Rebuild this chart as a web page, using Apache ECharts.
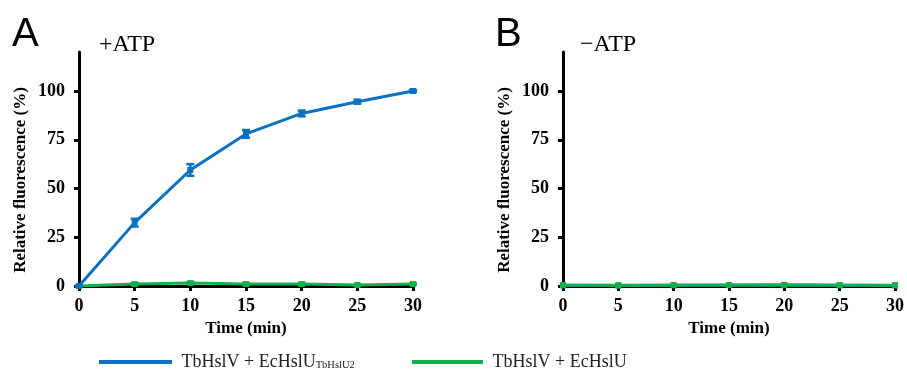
<!DOCTYPE html>
<html>
<head>
<meta charset="utf-8">
<script src="https://cdn.jsdelivr.net/npm/echarts@6/dist/echarts.min.js"></script>
<style>
html,body{margin:0;padding:0;background:#fff;}
#main{width:907px;height:371px;}
</style>
</head>
<body>
<div id="main"></div>
<script>
// ---- data ----
var times = [0, 5, 10, 15, 20, 25, 30];
var yTicks = [0, 25, 50, 75, 100];
var blueA = [0, 32.5, 59.5, 78, 88.5, 94.5, 100];
var blueAErr = [0, 2, 3, 2, 1.5, 1, 0.5];
var greenA = [0, 1, 1.5, 1, 1, 0.5, 1];
var greenAErr = [0, 0.5, 0.5, 0.5, 0.5, 0.3, 0.3];
var blueB = [0.3, 0.2, 0.3, 0.4, 0.4, 0.3, 0.3];
var greenB = [0.5, 0.4, 0.5, 0.5, 0.6, 0.5, 0.4];
var nameBlue = 'TbHslV + EcHslU (TbHslU2)';
var nameGreen = 'TbHslV + EcHslU';

var BLUE = '#0a70c4', GREEN = '#14b04c';
var SERIF = '"Liberation Serif", "Times New Roman", serif';

function pairs(vals) { return times.map(function (t, i) { return [t, vals[i]]; }); }
function errData(vals, errs) { return times.map(function (t, i) { return [t, vals[i] - errs[i], vals[i] + errs[i]]; }); }

function errSeries(vals, errs, color, gi) {
  return {
    type: 'custom', xAxisIndex: gi, yAxisIndex: gi, z: 4, silent: true,
    data: errData(vals, errs),
    renderItem: function (params, api) {
      var x = api.value(0);
      var lo = api.coord([x, api.value(1)]);
      var hi = api.coord([x, api.value(2)]);
      var w = 4;
      var st = { stroke: color, lineWidth: 2.5 };
      return { type: 'group', children: [
        { type: 'line', shape: { x1: lo[0], y1: lo[1], x2: hi[0], y2: hi[1] }, style: st },
        { type: 'line', shape: { x1: lo[0] - w, y1: lo[1], x2: lo[0] + w, y2: lo[1] }, style: st },
        { type: 'line', shape: { x1: hi[0] - w, y1: hi[1], x2: hi[0] + w, y2: hi[1] }, style: st }
      ]};
    }
  };
}
function lineSeries(name, vals, color, gi, z) {
  return {
    name: name, type: 'line', xAxisIndex: gi, yAxisIndex: gi, z: z,
    data: pairs(vals), symbol: 'rect', symbolSize: 6, showSymbol: true,
    lineStyle: { color: color, width: 3 }, itemStyle: { color: color },
    emphasis: { disabled: true }
  };
}
function xAxis(gi) {
  return {
    type: 'value', gridIndex: gi, min: 0, max: 30, interval: 5,
    name: 'Time (min)', nameLocation: 'middle', nameGap: 34,
    nameTextStyle: { fontFamily: SERIF, fontWeight: 'bold', fontSize: 17, color: '#000' },
    axisLine: { show: true, onZero: false, lineStyle: { color: '#000', width: 3 } },
    axisTick: { show: true, inside: false, length: 5, lineStyle: { color: '#000', width: 3 } },
    axisLabel: { fontFamily: SERIF, fontWeight: 'bold', fontSize: 18, color: '#000', margin: 11 },
    splitLine: { show: false }
  };
}
function yAxis(gi) {
  return {
    type: 'value', gridIndex: gi, min: 0, max: 120,
    name: 'Relative fluorescence (%)', nameLocation: 'middle', nameGap: 50,
    nameTextStyle: { fontFamily: SERIF, fontWeight: 'bold', fontSize: 17, color: '#000', padding: [0, 22, 0, 0] },
    axisLine: { show: true, lineStyle: { color: '#000', width: 3 } },
    axisTick: { show: true, inside: false, length: 5, customValues: yTicks, lineStyle: { color: '#000', width: 3 } },
    axisLabel: { fontFamily: SERIF, fontWeight: 'bold', fontSize: 18, color: '#000', margin: 14, customValues: yTicks },
    splitLine: { show: false }
  };
}
var legendText = {
  fontFamily: SERIF, fontSize: 18, color: '#222',
  rich: {
    m: { fontFamily: SERIF, fontSize: 18, color: '#222' },
    s: { fontFamily: SERIF, fontSize: 10.5, color: '#222', verticalAlign: 'bottom', padding: [6, 0, 0, 0] }
  }
};

var chart = echarts.init(document.getElementById('main'), null, { renderer: 'canvas' });
chart.setOption({
  animation: false,
  backgroundColor: '#fff',
  grid: [
    { left: 79, right: 494, top: 52, bottom: 85 },
    { left: 563, right: 10, top: 52, bottom: 85 }
  ],
  xAxis: [xAxis(0), xAxis(1)],
  yAxis: [yAxis(0), yAxis(1)],
  legend: [
    { left: 99, top: 353, icon: 'rect', itemWidth: 73, itemHeight: 4, data: [nameBlue],
      textStyle: legendText, padding: 0,
      formatter: function () { return '{m| TbHslV + EcHslU}{s|TbHslU2}'; } },
    { left: 412, top: 353, icon: 'rect', itemWidth: 71, itemHeight: 4, data: [nameGreen],
      textStyle: legendText, padding: 0,
      formatter: function () { return '{m| TbHslV + EcHslU}'; } }
  ],
  graphic: [
    { type: 'text', left: 12, top: 15, style: { text: 'A', font: '40px "Liberation Sans", Arial, sans-serif', fill: '#000' } },
    { type: 'text', left: 99, top: 33, style: { text: '+ATP', font: '24px ' + SERIF, fill: '#000' } },
    { type: 'text', left: 495, top: 15, style: { text: 'B', font: '40px "Liberation Sans", Arial, sans-serif', fill: '#000' } },
    { type: 'text', left: 580, top: 33, style: { text: '\u2212ATP', font: '24px ' + SERIF, fill: '#000' } }
  ],
  series: [
    lineSeries(nameGreen, greenA, GREEN, 0, 3),
    errSeries(greenA, greenAErr, GREEN, 0),
    lineSeries(nameBlue, blueA, BLUE, 0, 5),
    errSeries(blueA, blueAErr, BLUE, 0),
    lineSeries(nameBlue, blueB, BLUE, 1, 3),
    lineSeries(nameGreen, greenB, GREEN, 1, 5)
  ]
});
</script>
</body>
</html>
